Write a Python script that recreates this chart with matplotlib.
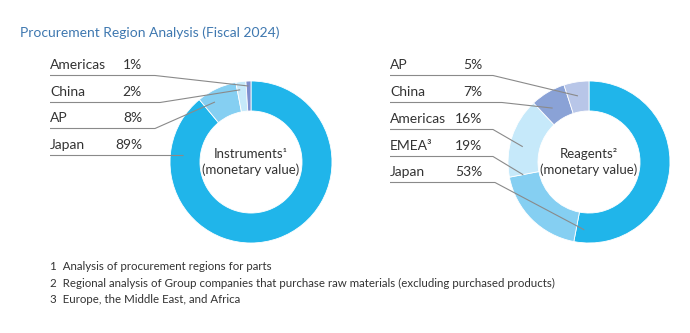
import matplotlib
matplotlib.use("Agg")
import matplotlib.pyplot as plt
import numpy as np

plt.rcParams['font.family'] = ['Lato', 'DejaVu Sans']

W, H = 690, 333

title = "Procurement Region Analysis (Fiscal 2024)"

# Instruments (clockwise from 12 o'clock)
inst_regions = ["Japan", "AP", "China", "Americas"]
inst_values = [89, 8, 2, 1]
inst_colors = ["#20b5ea", "#85cff2", "#c6e9fa", "#7e8fcf"]
inst_label_order = ["Americas", "China", "AP", "Japan"]

# Reagents (clockwise from 12 o'clock)
reag_regions = ["Japan", "EMEA", "Americas", "China", "AP"]
reag_values = [53, 19, 16, 7, 5]
reag_colors = ["#20b5ea", "#85cff2", "#c6e9fa", "#8aa2d6", "#b8c6e8"]
reag_label_order = ["AP", "China", "Americas", "EMEA", "Japan"]
reag_label_text = {"EMEA": "EMEA³"}

footnotes = [
    "1  Analysis of procurement regions for parts",
    "2  Regional analysis of Group companies that purchase raw materials (excluding purchased products)",
    "3  Europe, the Middle East, and Africa",
]

fig = plt.figure(figsize=(W / 100, H / 100), dpi=100, facecolor="white")
ax = fig.add_axes([0, 0, 1, 1])


def Y(y):
    return H - y


def donut(center, radius, values, colors, regions, label_order, rows_y,
          x_label, x_pct, x_line_end, anchors, label_text=None, ctext=""):
    cx, cy = center
    ax.pie(values, colors=colors, startangle=90, counterclock=False,
           center=(cx, Y(cy)), radius=radius,
           wedgeprops=dict(width=radius * 0.37, edgecolor="white", linewidth=0.6))
    total = float(sum(values))
    for i, name in enumerate(label_order):
        idx = regions.index(name)
        pct = values[idx] / total * 100
        ty = rows_y[i]
        txt = (label_text or {}).get(name, name)
        ax.text(x_label, Y(ty), txt, fontsize=10, color="#333333", va="center", ha="left")
        ax.text(x_pct, Y(ty), f"{pct:.0f}%", fontsize=10, color="#333333", va="center", ha="right")
        ly = ty + 10.5
        ang, r = anchors[name]
        th = np.deg2rad(ang)
        ex = cx - r * np.sin(th)
        ey = cy - r * np.cos(th)
        ax.plot([x_label, x_line_end[i], ex], [Y(ly), Y(ly), Y(ey)],
                color="#8a8a8a", lw=0.8, solid_capstyle="butt", zorder=5)
    ax.text(cx, Y(cy), ctext, fontsize=9.5, color="#333333", ha="center", va="center",
            linespacing=1.3)


donut((251, 162), 81, inst_values, inst_colors, inst_regions, inst_label_order,
      [65, 92, 118, 145], 50, 142, [155, 160, 155, 183],
      {"Americas": (1.8, 76), "China": (8.5, 73), "AP": (31, 70), "Japan": (85, 68)},
      ctext="Instruments¹\n(monetary value)")

donut((589, 162), 81, reag_values, reag_colors, reag_regions, reag_label_order,
      [65, 92, 119, 146, 172], 390, 482, [493, 502, 493, 493, 495],
      {"AP": (9.5, 67), "China": (34, 65), "Americas": (77, 68), "EMEA": (101, 67),
       "Japan": (176, 68)},
      label_text=reag_label_text,
      ctext="Reagents²\n(monetary value)")

ax.text(20, Y(33), title, fontsize=10, color="#3f78b0", ha="left", va="center")

for i, fn in enumerate(footnotes):
    ax.text(50, Y(267 + 16.3 * i), fn, fontsize=8.3, color="#333333", ha="left", va="center")

ax.set_xlim(0, W)
ax.set_ylim(0, H)
ax.set_aspect("equal")
ax.set_axis_off()

fig.savefig("out.png", dpi=100, facecolor="white")
